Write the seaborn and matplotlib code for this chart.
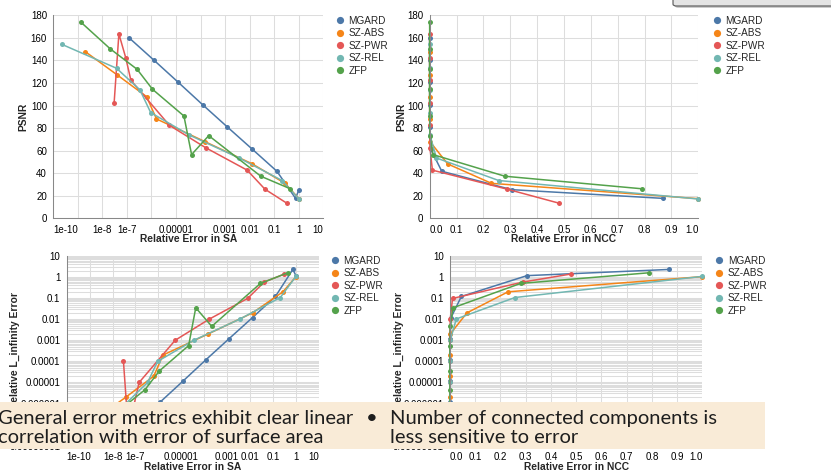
import matplotlib
matplotlib.use("Agg")
import matplotlib.pyplot as plt
from matplotlib.lines import Line2D
from matplotlib.patches import Rectangle, FancyBboxPatch
from matplotlib.ticker import FixedLocator, NullLocator, NullFormatter, LogLocator
import numpy as np
import pandas as pd
import seaborn as sns

COMPRESSORS = ["MGARD", "SZ-ABS", "SZ-PWR", "SZ-REL", "ZFP"]
COLORS = ["#4c78a8", "#f58518", "#e45756", "#72b7b2", "#54a24b"]

# one entry per error bound: PSNR, rel. error in surface area, rel. error in NCC, rel. L_inf error
mgard_psnr = [160.2, 140.4, 120.6, 100.8, 81.0, 61.2, 41.7, 25.4, 17.7]
mgard_sa = [1.2e-7, 1.23e-6, 1.23e-5, 1.2e-4, 1.23e-3, 1.29e-2, 0.129, 1.02, 0.74]
mgard_ncc = [0, 0, 0, 0, 0.0005, 0.004, 0.045, 0.305, 0.867]
mgard_linf = [1.2e-7, 1.2e-6, 1.2e-5, 1.2e-4, 1.2e-3, 0.012, 0.12, 1.17, 2.3]

szabs_psnr = [147.8, 127.5, 107.9, 88.1, 68.0, 48.2, 31.0, 17.4]
szabs_sa = [2.0e-9, 3.8e-8, 6.3e-7, 1.6e-6, 1.5e-4, 1.29e-2, 0.275, 1.02]
szabs_ncc = [0, 0, 0, 0, 0.001, 0.067, 0.23, 1.0]
szabs_linf = [2e-7, 2e-6, 2e-5, 2e-4, 2e-3, 0.02, 0.2, 1.05]

szpwr_psnr = [163.5, 142.5, 122.4, 102.0, 82.4, 62.5, 42.7, 25.8, 13.5]
szpwr_sa = [4.7e-8, 8.9e-8, 1.45e-7, 3.0e-8, 5.4e-6, 1.64e-4, 7.9e-3, 4.2e-2, 0.32]
szpwr_ncc = [0, 0, 0, 0, 0, 0.001, 0.01, 0.289, 0.48]
szpwr_linf = [1e-7, 1e-6, 1e-5, 1e-4, 1e-3, 1e-2, 0.097, 0.58, 1.4]

szrel_psnr = [154.3, 133.0, 113.8, 93.7, 73.8, 53.5, 33.5, 17.1]
szrel_sa = [2.2e-10, 3.8e-8, 3.4e-7, 9.3e-7, 3.5e-5, 3.7e-3, 0.21, 1.02]
szrel_ncc = [0, 0, 0, 0, 0.001, 0.025, 0.257, 1.0]
szrel_linf = [1e-7, 1e-6, 1e-5, 1e-4, 1e-3, 0.0103, 0.107, 1.08]

zfp_psnr = [174.1, 150.2, 132.1, 114.4, 90.7, 73.3, 56.5, 37.3, 26.2]
zfp_sa = [1.3e-9, 2.1e-8, 2.6e-7, 1.1e-6, 2.1e-5, 2.15e-4, 4.3e-5, 2.85e-2, 0.45]
zfp_ncc = [0, 0, 0, 0, 0, 0.001, 0.012, 0.28, 0.789]
zfp_linf = [3e-8, 5e-7, 4.5e-6, 3.5e-5, 5.6e-4, 4.6e-3, 0.035, 0.5, 1.6]

SA_TICKS = [1e-10, 1e-9, 1e-8, 1e-7, 1e-6, 1e-5, 1e-4, 1e-3, 1e-2, 1e-1, 1, 10]
SA_TICK_LABELS = ["1e-10", "", "1e-8", "1e-7", "", "0.00001", "", "0.001", "0.01", "0.1", "1", "10"]
NCC_TICKS = [0.0, 0.1, 0.2, 0.3, 0.4, 0.5, 0.6, 0.7, 0.8, 0.9, 1.0]
NCC_TICK_LABELS = ["0.0", "0.1", "0.2", "0.3", "0.4", "0.5", "0.6", "0.7", "0.8", "0.9", "1.0"]
PSNR_TICKS = [0, 20, 40, 60, 80, 100, 120, 140, 160, 180]
LINF_TICKS = [1e-8, 1e-7, 1e-6, 1e-5, 1e-4, 1e-3, 1e-2, 1e-1, 1, 10]
LINF_TICK_LABELS = ["0.00000001", "0.0000001", "0.000001", "0.00001", "0.0001",
                    "0.001", "0.01", "0.1", "1", "10"]

LEFT_NOTE = ["General error metrics exhibit clear linear", "correlation with error of surface area"]
RIGHT_NOTE = ["Number of connected components is", "less sensitive to error"]

frames = []
for name, psnr, sa, ncc, linf in [
    ("MGARD", mgard_psnr, mgard_sa, mgard_ncc, mgard_linf),
    ("SZ-ABS", szabs_psnr, szabs_sa, szabs_ncc, szabs_linf),
    ("SZ-PWR", szpwr_psnr, szpwr_sa, szpwr_ncc, szpwr_linf),
    ("SZ-REL", szrel_psnr, szrel_sa, szrel_ncc, szrel_linf),
    ("ZFP", zfp_psnr, zfp_sa, zfp_ncc, zfp_linf),
]:
    frames.append(pd.DataFrame({"compressor": name, "psnr": psnr, "sa": sa, "ncc": ncc, "linf": linf}))
df = pd.concat(frames, ignore_index=True)

sns.set_style("white")
plt.rcParams["font.family"] = ["Liberation Sans", "DejaVu Sans"]

W, H = 831, 473
fig = plt.figure(figsize=(W / 100, H / 100), dpi=100)
fig.patch.set_facecolor("white")


def px_axes(left, top, right, bottom):
    return fig.add_axes([left / W, 1 - bottom / H, (right - left) / W, (bottom - top) / H])


def style_axes(ax):
    for side in ["top", "right"]:
        ax.spines[side].set_visible(False)
    for side in ["left", "bottom"]:
        ax.spines[side].set_color("#888888")
        ax.spines[side].set_linewidth(0.75)
    ax.tick_params(which="both", length=3.5, width=0.75, color="#888888",
                   labelsize=7, pad=1, labelcolor="#000000")
    ax.grid(True, which="both", color="#dddddd", linewidth=0.75)
    ax.set_axisbelow(True)


def draw(ax, x, y):
    sns.lineplot(data=df, x=x, y=y, hue="compressor", hue_order=COMPRESSORS, palette=COLORS,
                 estimator=None, sort=True, marker="o", markersize=3.6, markeredgewidth=0,
                 linewidth=1.1, legend=False, clip_on=False, ax=ax)


def set_sa_axis(ax):
    ax.set_xscale("log")
    ax.set_xlim(1e-10, 10)
    ax.xaxis.set_major_locator(FixedLocator(SA_TICKS))
    ax.xaxis.set_minor_locator(NullLocator())
    ax.set_xticklabels(SA_TICK_LABELS)


def set_ncc_axis(ax):
    ax.set_xlim(0, 1)
    ax.set_xticks(NCC_TICKS)
    ax.set_xticklabels(NCC_TICK_LABELS)


def set_psnr_axis(ax):
    ax.set_ylim(0, 180)
    ax.set_yticks(PSNR_TICKS)


def set_linf_axis(ax):
    ax.set_yscale("log")
    ax.set_ylim(1e-8, 10)
    ax.yaxis.set_major_locator(FixedLocator(LINF_TICKS))
    ax.set_yticklabels(LINF_TICK_LABELS)
    ax.yaxis.set_minor_locator(LogLocator(base=10, subs=range(2, 10), numticks=100))
    ax.yaxis.set_minor_formatter(NullFormatter())


def flush_xlabels(ax):
    ticks = ax.xaxis.get_major_ticks()
    ticks[0].label1.set_horizontalalignment("left")
    ticks[-1].label1.set_horizontalalignment("right")


def titles(ax, xlabel, ylabel, xpos, ypos):
    ax.set_xlabel(xlabel, fontsize=7.4, fontweight="bold")
    ax.set_ylabel(ylabel, fontsize=7.4, fontweight="bold")
    ax.xaxis.set_label_coords(0.5, ypos)
    ax.xaxis.label.set_verticalalignment("center")
    ax.yaxis.set_label_coords(xpos, 0.5)
    ax.yaxis.label.set_verticalalignment("center")


def add_legend(ax, x_px, y_px):
    handles = [Line2D([], [], marker="o", linestyle="", color=c, markersize=5.2, markeredgewidth=0)
               for c in COLORS]
    ax.legend(handles, COMPRESSORS, loc="upper left", bbox_to_anchor=(x_px / W, 1 - y_px / H),
              bbox_transform=fig.transFigure, frameon=False, fontsize=7.2, handlelength=0.8,
              handletextpad=0.45, labelspacing=0.26, borderpad=0, borderaxespad=0)


ax_tl = px_axes(53.3, 15.3, 323.3, 218.3)
ax_tr = px_axes(429.7, 15.3, 698.3, 218.3)
ax_bl = px_axes(66.7, 256, 318.7, 445.7)
ax_br = px_axes(450, 256, 702.3, 445.7)

# PSNR vs SA
style_axes(ax_tl)
set_sa_axis(ax_tl)
draw(ax_tl, "sa", "psnr")
set_psnr_axis(ax_tl)
set_sa_axis(ax_tl)
flush_xlabels(ax_tl)
titles(ax_tl, "Relative Error in SA", "PSNR", -0.110, -0.102)
add_legend(ax_tl, 336, 15.5)

# PSNR vs NCC
style_axes(ax_tr)
draw(ax_tr, "ncc", "psnr")
set_psnr_axis(ax_tr)
set_ncc_axis(ax_tr)
flush_xlabels(ax_tr)
titles(ax_tr, "Relative Error in NCC", "PSNR", -0.107, -0.102)
add_legend(ax_tr, 712.7, 15.5)

# L_inf vs SA
style_axes(ax_bl)
set_sa_axis(ax_bl)
set_linf_axis(ax_bl)
draw(ax_bl, "sa", "linf")
set_sa_axis(ax_bl)
set_linf_axis(ax_bl)
flush_xlabels(ax_bl)
titles(ax_bl, "Relative Error in SA", "Relative L_infinity Error", -0.205, -0.112)
add_legend(ax_bl, 331, 255.5)

# L_inf vs NCC
style_axes(ax_br)
set_linf_axis(ax_br)
draw(ax_br, "ncc", "linf")
set_ncc_axis(ax_br)
set_linf_axis(ax_br)
flush_xlabels(ax_br)
titles(ax_br, "Relative Error in NCC", "Relative L_infinity Error", -0.202, -0.112)
add_legend(ax_br, 715.3, 255.5)

# slide note box laid over the lower charts
fig.add_artist(Rectangle((0, 1 - 449.3 / H), 765 / W, 47.6 / H, transform=fig.transFigure,
                         facecolor="#f9ebd7", edgecolor="none", zorder=10))
note_kw = dict(fontfamily=["Lato", "DejaVu Sans"], fontsize=14.5, color="#1e1e1e",
               va="baseline", ha="left", zorder=11)
fig.text(-2 / W, 1 - 424.3 / H, LEFT_NOTE[0], **note_kw)
fig.text(-2 / W, 1 - 443.0 / H, LEFT_NOTE[1], **note_kw)
fig.text(366 / W, 1 - 424.3 / H, "\u2022", **note_kw)
fig.text(390 / W, 1 - 424.3 / H, RIGHT_NOTE[0], **note_kw)
fig.text(390 / W, 1 - 443.0 / H, RIGHT_NOTE[1], **note_kw)

# edge of a popup window in the top right corner
fig.add_artist(FancyBboxPatch((675 / W, 1 - 8 / H), 170 / W, 20 / H, transform=fig.transFigure,
                              boxstyle="round,pad=0,rounding_size=0.004", facecolor="#9a9a9a",
                              edgecolor="none", alpha=0.5, zorder=10))
fig.add_artist(FancyBboxPatch((673 / W, 1 - 6 / H), 170 / W, 20 / H, transform=fig.transFigure,
                              boxstyle="round,pad=0,rounding_size=0.004", facecolor="#e4e4e4",
                              edgecolor="#555555", linewidth=0.8, zorder=11))

fig.savefig("out.png", dpi=100)
